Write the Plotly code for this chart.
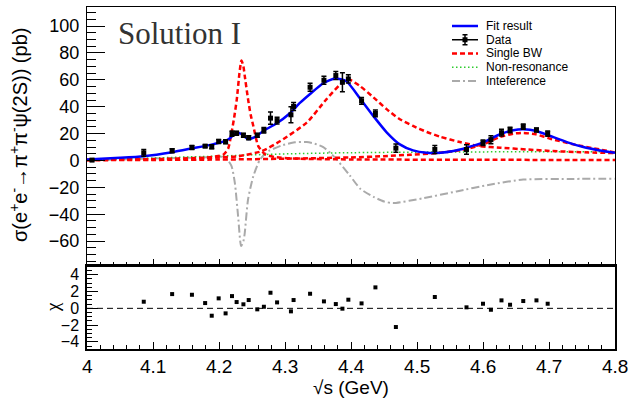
import plotly.graph_objects as go

# ---------------- data ----------------
energy = [4.0076, 4.086, 4.129, 4.159, 4.179, 4.189, 4.1995, 4.210, 4.2197, 4.2267,
          4.237, 4.245, 4.258, 4.268, 4.278, 4.288, 4.309, 4.313, 4.338, 4.359,
          4.377, 4.387, 4.396, 4.416, 4.437, 4.468, 4.527, 4.575, 4.600, 4.612,
          4.628, 4.641, 4.661, 4.681, 4.698]
xsec = [0.3, 5.7, 7.3, 9.7, 10.7, 10.2, 14.2, 14.0, 20.0, 20.2,
        18.7, 17.0, 18.7, 22.5, 31.5, 29.7, 34.0, 40.2, 54.5, 59.7,
        63.2, 58.2, 60.7, 44.4, 35.0, 9.2, 8.2, 8.2, 13.2, 15.5,
        20.7, 22.7, 25.2, 22.7, 20.0]
xsec_err = [0.5, 2.5, 1.5, 1.5, 1.0, 1.5, 1.5, 1.5, 2.0, 1.5,
            1.5, 1.5, 1.5, 2.0, 4.5, 2.5, 6.0, 3.0, 3.0, 3.0,
            3.0, 7.0, 3.0, 2.5, 2.5, 3.0, 3.0, 3.5, 2.0, 3.0,
            2.5, 2.0, 2.0, 1.5, 2.0]
chi = [None, 0.79, 1.70, 1.62, 0.63, -0.88, 1.19, -0.60, 1.46, 0.75,
       0.48, 0.99, -0.12, 0.19, 1.86, 0.71, -0.36, 0.99, 1.74, 0.83,
       0.51, -0.04, 1.03, 0.59, 2.50, -2.23, 1.35, 0.12, 0.55, -0.17,
       0.95, 0.43, 0.87, 0.95, 0.55]

fit_E = [4.000, 4.050, 4.086, 4.129, 4.159, 4.190, 4.205, 4.215, 4.222, 4.228,
         4.233, 4.238, 4.244, 4.250, 4.258, 4.267, 4.287, 4.307, 4.323, 4.338,
         4.358, 4.376, 4.393, 4.414, 4.434, 4.454, 4.474, 4.494, 4.515, 4.535,
         4.555, 4.575, 4.600, 4.626, 4.646, 4.661, 4.681, 4.702, 4.727, 4.752,
         4.777, 4.800]
fit_xs = [0.8, 2.0, 3.2, 6.2, 9.0, 12.0, 13.8, 16.0, 19.0, 20.5,
          20.0, 18.0, 16.0, 16.5, 18.5, 22.0, 27.5, 35.0, 43.0, 49.5,
          57.5, 61.0, 59.0, 46.0, 33.0, 21.0, 12.0, 7.5, 5.7, 5.7,
          7.0, 9.5, 13.5, 19.5, 22.5, 23.2, 22.0, 18.2, 13.7, 10.0,
          7.5, 5.7]

bw1_E = [4.000, 4.100, 4.150, 4.180, 4.195, 4.207, 4.214, 4.219, 4.223, 4.227,
         4.231, 4.234, 4.237, 4.239, 4.244, 4.248, 4.252, 4.2595, 4.270, 4.285,
         4.320, 4.400, 4.600, 4.800]
bw1_xs = [0.5, 0.8, 1.2, 2.0, 3.0, 4.5, 9.0, 20.7, 32.0, 45.7,
          65.0, 74.4, 70.0, 63.0, 45.7, 34.0, 25.7, 10.7, 4.5, 2.5,
          1.3, 0.8, 0.5, 0.4]

bw2_E = [4.000, 4.100, 4.200, 4.230, 4.265, 4.293, 4.333, 4.363, 4.388, 4.398,
         4.414, 4.434, 4.454, 4.474, 4.494, 4.515, 4.535, 4.565, 4.595, 4.626,
         4.666, 4.706, 4.747, 4.800]
bw2_xs = [0.4, 1.0, 2.3, 3.2, 7.0, 14.5, 28.2, 45.7, 58.5, 60.0,
          55.2, 47.0, 38.2, 30.7, 25.7, 21.2, 17.7, 13.7, 10.7, 9.5,
          8.2, 7.0, 6.2, 5.5]

bw3_E = [4.000, 4.200, 4.300, 4.400, 4.450, 4.490, 4.530, 4.555, 4.575, 4.600,
         4.626, 4.646, 4.661, 4.680, 4.702, 4.737, 4.777, 4.800]
bw3_xs = [0.2, 0.7, 1.3, 2.3, 3.2, 4.3, 5.5, 7.0, 8.5, 12.0,
          17.5, 20.0, 20.5, 19.5, 16.2, 12.0, 8.2, 6.0]

nr_E = [4.00, 4.05, 4.10, 4.15, 4.20, 4.25, 4.30, 4.35, 4.40, 4.50, 4.60, 4.70, 4.80]
nr_xs = [0.2, 1.0, 1.8, 2.6, 3.3, 4.2, 4.9, 5.4, 5.8, 6.2, 6.4, 6.5, 6.5]

int_E = [4.000, 4.050, 4.100, 4.150, 4.190, 4.205, 4.212, 4.219, 4.224, 4.229,
         4.2335, 4.237, 4.239, 4.244, 4.252, 4.262, 4.272, 4.277, 4.297, 4.315,
         4.333, 4.345, 4.358, 4.370, 4.378, 4.388, 4.398, 4.414, 4.434, 4.450,
         4.464, 4.510, 4.560, 4.610, 4.661, 4.737, 4.800]
int_xs = [0.0, 0.8, 1.5, 2.0, 2.5, 2.8, 1.0, -4.2, -16.7, -41.7,
          -63.7, -60.0, -54.0, -29.0, -11.7, 0.7, 6.0, 7.5, 11.5, 13.5,
          13.7, 12.5, 10.0, 5.0, 1.0, -5.0, -11.0, -21.0, -27.0, -30.5,
          -31.7, -28.0, -23.0, -18.0, -14.2, -13.7, -13.5]

legend_labels = ["Fit result", "Data", "Single BW", "Non-resonance", "Inteference"]
x_ticks = [4.0, 4.1, 4.2, 4.3, 4.4, 4.5, 4.6, 4.7, 4.8]
x_tick_text = ["4", "4.1", "4.2", "4.3", "4.4", "4.5", "4.6", "4.7", "4.8"]

# ---------------- geometry helpers ----------------
W, H = 631, 399
L, R, T, B = 87, 615, 7, 349
split = (B - 266) / (B - T)

def px(x):
    return (x - L) / (R - L)

def py(y):
    return (B - y) / (B - T)

FONT = "Liberation Sans, Arial, Helvetica, sans-serif"
RED = "#ff0000"
BLUE = "#0000ff"
GREEN = "#2ecc2e"
GRAY = "#aaaaaa"

fig = go.Figure()

# top panel curves
fig.add_trace(go.Scatter(x=int_E, y=int_xs, mode="lines", xaxis="x2", yaxis="y2",
                         line=dict(color=GRAY, width=2, dash="8px,3px,2px,3px", shape="spline", smoothing=0.6)))
fig.add_trace(go.Scatter(x=nr_E, y=nr_xs, mode="lines", xaxis="x2", yaxis="y2",
                         line=dict(color=GREEN, width=1.5, dash="1.5px,2.5px", shape="spline")))
for e, s in [(bw1_E, bw1_xs), (bw2_E, bw2_xs), (bw3_E, bw3_xs)]:
    fig.add_trace(go.Scatter(x=e, y=s, mode="lines", xaxis="x2", yaxis="y2",
                             line=dict(color=RED, width=2.5, dash="5px,3px", shape="spline", smoothing=0.6)))
fig.add_trace(go.Scatter(x=fit_E, y=fit_xs, mode="lines", xaxis="x2", yaxis="y2",
                         line=dict(color=BLUE, width=2.5, shape="spline", smoothing=0.6)))
fig.add_trace(go.Scatter(x=energy, y=xsec, mode="markers", xaxis="x2", yaxis="y2",
                         marker=dict(symbol="square", size=5, color="black"),
                         error_y=dict(type="data", array=xsec_err, width=2.5, thickness=1.5, color="black")))

# bottom panel
fig.add_trace(go.Scatter(x=energy, y=chi, mode="markers", xaxis="x", yaxis="y",
                         marker=dict(symbol="square", size=4, color="black")))

ytick_font = dict(family=FONT, size=18, color="black")
chitick_font = dict(family=FONT, size=16, color="black")
xtick_font = dict(family=FONT, size=19, color="black")

fig.update_layout(
    width=W, height=H,
    margin=dict(l=L, r=W - R, t=T, b=H - B),
    paper_bgcolor="white", plot_bgcolor="white",
    showlegend=False,
    xaxis=dict(domain=[0, 1], anchor="y", range=[4.0, 4.8], tickvals=x_ticks, showticklabels=False,
               ticks="inside", ticklen=7, tickwidth=1, tickcolor="black",
               minor=dict(ticks="inside", dtick=0.02, ticklen=4, tickcolor="black"),
               showline=True, linecolor="black", linewidth=1.5, mirror=True,
               showgrid=False, zeroline=False),
    yaxis=dict(domain=[0, split], anchor="x", range=[-4.85, 5.05], tickvals=[-4, -2, 0, 2, 4],
               ticks="inside", ticklen=11, tickwidth=1, tickcolor="black",
               minor=dict(ticks="inside", dtick=0.5, ticklen=5, tickcolor="black"),
               showline=True, linecolor="black", linewidth=1.5, mirror=True,
               showgrid=False, zeroline=False, tickfont=chitick_font, ticklabelstandoff=3),
    xaxis2=dict(domain=[0, 1], anchor="y2", matches="x", range=[4.0, 4.8], tickvals=x_ticks,
                showticklabels=False,
                ticks="inside", ticklen=7, tickwidth=1, tickcolor="black",
                minor=dict(ticks="inside", dtick=0.02, ticklen=4, tickcolor="black"),
                showline=True, linecolor="black", linewidth=1, mirror=True,
                showgrid=False, zeroline=False),
    yaxis2=dict(domain=[split, 1], anchor="x2", range=[-78.5, 114.2],
                tickvals=[-60, -40, -20, 0, 20, 40, 60, 80, 100],
                ticks="inside", ticklen=18, tickwidth=1, tickcolor="black",
                minor=dict(ticks="inside", dtick=5, ticklen=9, tickcolor="black"),
                showline=True, linecolor="black", linewidth=1, mirror=True,
                showgrid=False, zeroline=False, tickfont=ytick_font, ticklabelstandoff=3),
)

shapes = [dict(type="line", xref="x domain", yref="y", x0=0, x1=1, y0=0, y1=0,
               line=dict(color="black", width=1, dash="6px,4px"))]
annotations = []

# x tick labels placed on the data scale
for tv, tt in zip(x_ticks, x_tick_text):
    annotations.append(dict(text=tt, xref="x", yref="paper", x=tv, y=py(366),
                            xanchor="center", yanchor="middle", showarrow=False, borderpad=0,
                            font=xtick_font))

# legend (ROOT-style, compact)
leg_y = [26, 39.75, 53.5, 67.25, 81]
leg_styles = [dict(color=BLUE, width=2.5), None, dict(color=RED, width=2.5, dash="5px,3px"),
              dict(color=GREEN, width=1.5, dash="1.5px,2.5px"), dict(color=GRAY, width=2, dash="8px,3px,2px,3px")]
for lab, yy, st in zip(legend_labels, leg_y, leg_styles):
    if st is not None:
        shapes.append(dict(type="line", xref="paper", yref="paper", x0=px(452), x1=px(478),
                           y0=py(yy), y1=py(yy), line=st))
    else:
        shapes.append(dict(type="line", xref="paper", yref="paper", x0=px(452), x1=px(478),
                           y0=py(yy), y1=py(yy), line=dict(color="black", width=1.5)))
        shapes.append(dict(type="line", xref="paper", yref="paper", x0=px(465), x1=px(465),
                           y0=py(yy - 5), y1=py(yy + 5), line=dict(color="black", width=1.5)))
        for cy in (yy - 5, yy + 5):
            shapes.append(dict(type="line", xref="paper", yref="paper", x0=px(462.5), x1=px(467.5),
                               y0=py(cy), y1=py(cy), line=dict(color="black", width=1.5)))
        shapes.append(dict(type="rect", xref="paper", yref="paper", x0=px(462.5), x1=px(467.5),
                           y0=py(yy - 2.5), y1=py(yy + 2.5), fillcolor="black", line=dict(width=0)))
    annotations.append(dict(text=lab, xref="paper", yref="paper", x=px(485), y=py(yy),
                            xanchor="left", yanchor="middle", showarrow=False, borderpad=0,
                            font=dict(family=FONT, size=12, color="black")))

annotations.append(dict(text="Solution I", xref="paper", yref="paper", x=px(116), y=py(33),
                        xanchor="left", yanchor="middle", showarrow=False,
                        font=dict(family="Liberation Serif, Times New Roman, serif", size=31, color="#333333")))
annotations.append(dict(text="σ(e<sup>+</sup>e<sup>-</sup>→π<sup>+</sup>π<sup>-</sup>ψ(2S)) (pb)",
                        xref="paper", yref="paper", x=px(18), y=py(135), textangle=-90,
                        xanchor="center", yanchor="middle", showarrow=False,
                        font=dict(family=FONT, size=20, color="black")))
annotations.append(dict(text="χ", xref="paper", yref="paper", x=px(52), y=py(307), textangle=-90,
                        xanchor="center", yanchor="middle", showarrow=False,
                        font=dict(family="Liberation Serif, serif", size=19, color="black")))
annotations.append(dict(text="√s (GeV)", xref="paper", yref="paper", x=px(351), y=py(387),
                        xanchor="center", yanchor="middle", showarrow=False,
                        font=dict(family=FONT, size=19, color="black")))

fig.update_layout(shapes=shapes, annotations=annotations)
fig.write_html("out.html")
